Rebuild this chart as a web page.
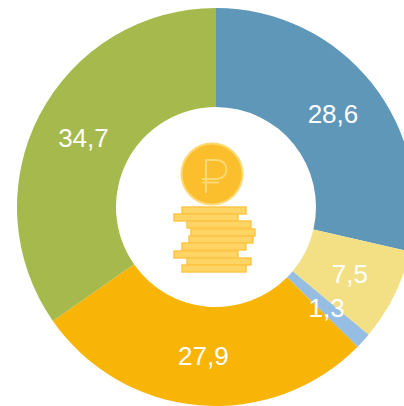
<!DOCTYPE html>
<html>
<head>
<meta charset="utf-8">
<script src="https://cdn.jsdelivr.net/npm/d3@7"></script>
<style>
  html, body { margin: 0; padding: 0; background: #fff; overflow: hidden; }
  text { font-family: "Liberation Sans", Arial, sans-serif; }
</style>
</head>
<body>
<div id="chart"></div>
<script>
const labels = ["28,6", "7,5", "1,3", "27,9", "34,7"];
const values = [28.6, 7.5, 1.3, 27.9, 34.7];
const colors = ["#5f97b9", "#f4e084", "#96bde2", "#f9b507", "#a5b94c"];

const w = 404;
const h = 406;
const cx = 216;
const cy = 207;
const outer = 199;
const inner = 100;

const svg = d3
  .select("#chart")
  .append("svg")
  .attr("width", w)
  .attr("height", h)
  .style("display", "block");

const pie = d3
  .pie()
  .sort(null)
  .value(d => d);

const arc = d3
  .arc()
  .innerRadius(inner)
  .outerRadius(outer);

const slices = svg
  .append("g")
  .attr("transform", "translate(" + cx + "," + cy + ")");

slices
  .selectAll("path")
  .data(pie(values))
  .enter()
  .append("path")
  .attr("d", arc)
  .attr("fill", (d, i) => colors[i]);

slices
  .selectAll("text")
  .data(pie(values))
  .enter()
  .append("text")
  .text((d, i) => labels[i])
  .attr("x", d => arc.centroid(d)[0])
  .attr("y", d => arc.centroid(d)[1])
  .attr("dy", "0.35em")
  .attr("text-anchor", "middle")
  .attr("font-size", 26)
  .attr("fill", "#fff");

// coin icon in the hole
const icon = svg.append("g");

const stack = [
  [182, 207, 64],
  [174, 214, 64],
  [187, 221, 64],
  [191, 229, 64],
  [189, 236, 64],
  [182, 243, 64],
  [174, 251, 64],
  [187, 258, 64],
  [182, 265, 64]
];

icon
  .selectAll("rect")
  .data(stack)
  .enter()
  .append("rect")
  .attr("x", d => d[0])
  .attr("y", d => d[1])
  .attr("width", d => d[2])
  .attr("height", 7)
  .attr("fill", "#fed565")
  .attr("stroke", "#fcc344")
  .attr("stroke-width", 1.4);

icon
  .append("circle")
  .attr("cx", 212)
  .attr("cy", 174)
  .attr("r", 30.5)
  .attr("fill", "#fbbf2e")
  .attr("stroke", "#fed973")
  .attr("stroke-width", 2);

icon
  .append("path")
  .attr("d", "M206,193V160H217A9.5,9.5 0 0 1 217,179H202M202,182.500H219")
  .attr("fill", "none")
  .attr("stroke", "#fed973")
  .attr("stroke-width", 2);
</script>
</body>
</html>
